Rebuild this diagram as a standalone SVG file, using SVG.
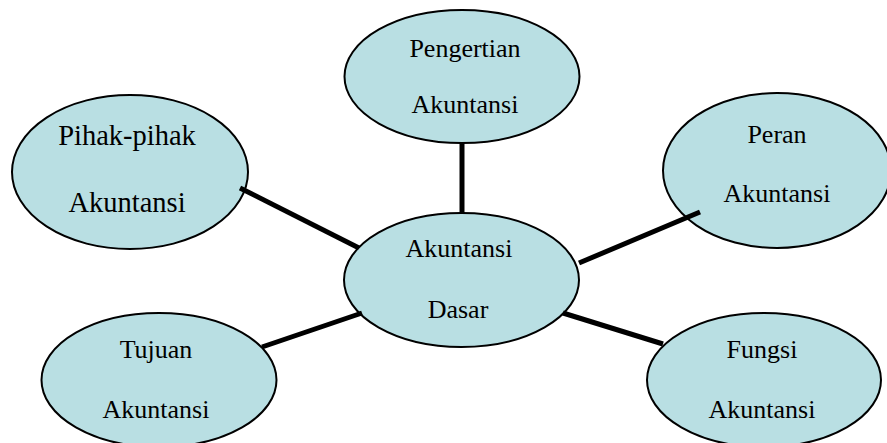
<svg xmlns="http://www.w3.org/2000/svg" width="887" height="443" viewBox="0 0 887 443">
<style>
.node ellipse { fill: #b9dfe3; stroke: #000; stroke-width: 2; }
.node text { font-family: "Liberation Serif", "Times New Roman", serif; font-size: 26px; fill: #000; text-anchor: middle; }
.big text { font-size: 28.5px; }
.conn line { stroke: #000; stroke-width: 5; }
</style>
<rect width="887" height="443" fill="#fff"/>
<g id="pihak" class="node big">
  <ellipse cx="130" cy="172" rx="118" ry="77"/>
  <text x="127" y="145">Pihak-pihak</text>
  <text x="127" y="212">Akuntansi</text>
</g>
<g id="pengertian" class="node">
  <ellipse cx="462" cy="76.5" rx="117.5" ry="66.5"/>
  <text x="465" y="57">Pengertian</text>
  <text x="465" y="113">Akuntansi</text>
</g>
<g id="peran" class="node">
  <ellipse cx="777" cy="170.5" rx="114" ry="77.5"/>
  <text x="777" y="143">Peran</text>
  <text x="777" y="202">Akuntansi</text>
</g>
<g id="dasar" class="node">
  <ellipse cx="461.5" cy="280" rx="117.5" ry="67"/>
  <text x="459" y="257">Akuntansi</text>
  <text x="458" y="318">Dasar</text>
</g>
<g id="tujuan" class="node">
  <ellipse cx="159" cy="380" rx="117.5" ry="67"/>
  <text x="156" y="358">Tujuan</text>
  <text x="156" y="418">Akuntansi</text>
</g>
<g id="fungsi" class="node">
  <ellipse cx="764" cy="380" rx="117" ry="67"/>
  <text x="762" y="358">Fungsi</text>
  <text x="762" y="418">Akuntansi</text>
</g>
<g id="connectors" class="conn">
  <line x1="462" y1="143" x2="462" y2="213"/>
  <line x1="240" y1="188" x2="359" y2="248"/>
  <line x1="579" y1="263" x2="700" y2="212"/>
  <line x1="262" y1="347" x2="362" y2="313"/>
  <line x1="563" y1="313" x2="663" y2="344"/>
</g>
</svg>
